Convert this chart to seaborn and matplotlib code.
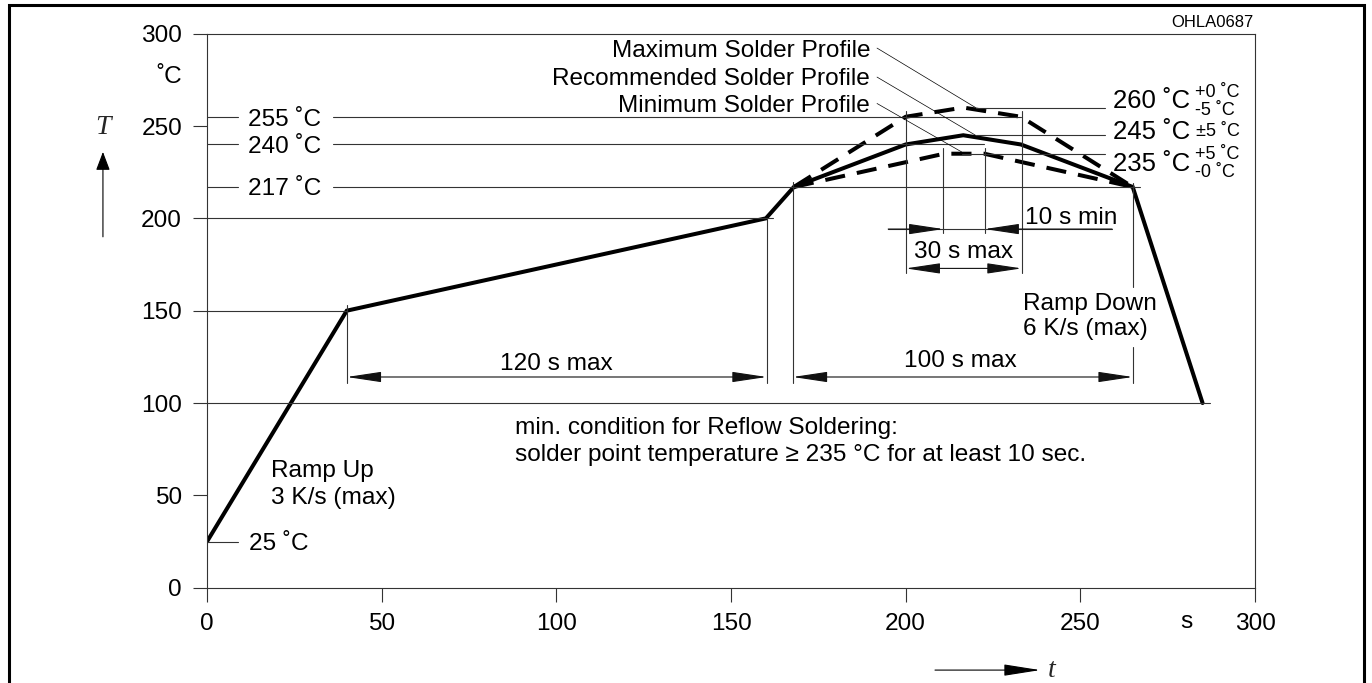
import numpy as np
import pandas as pd
import matplotlib.pyplot as plt
import matplotlib.patches as mpatches
import seaborn as sns

# Reflow profile: time (s) vs. temperature (°C)
ramp_t = [0, 40, 160, 168]
ramp_T = [25, 150, 200, 217]
rec_t = [168, 200, 216.5, 233, 265, 285]
rec_T = [217, 240, 245, 240, 217, 100]
max_t = [168, 200, 216.5, 233, 265]
max_T = [217, 255, 260, 255, 217]
min_t = [168, 211, 222.5, 265]
min_T = [217, 235, 235, 217]

x_ticks = [0, 50, 100, 150, 200, 250, 300]
y_ticks = [0, 50, 100, 150, 200, 250, 300]

sns.set_theme(style="white")
plt.rcParams["font.family"] = ["Liberation Sans", "DejaVu Sans"]

fig = plt.figure(figsize=(13.72, 6.83), dpi=100)
ax = fig.add_axes([0.1509, 0.1395, 0.7638, 0.8112])

thin = dict(color="#333333", lw=0.8)

# profile curves
solid = pd.DataFrame({"t": ramp_t + rec_t[1:], "T": ramp_T + rec_T[1:]})
sns.lineplot(data=solid, x="t", y="T", sort=False, estimator=None, color="black",
             lw=2.9, ax=ax, solid_joinstyle="miter")
for tt, TT in [(max_t, max_T), (min_t, min_T)]:
    df = pd.DataFrame({"t": tt, "T": TT})
    sns.lineplot(data=df, x="t", y="T", sort=False, estimator=None, color="black",
                 lw=2.9, ax=ax, linestyle=(0, (5, 3)))

# reference lines
for T, t0, t1 in [(255, 0, 9), (255, 36, 233), (240, 0, 9), (240, 36, 222.5),
                  (217, 0, 9), (217, 36, 267), (25, 0, 9), (200, 0, 162),
                  (150, 0, 40), (100, 0, 287), (260, 220, 257), (245, 220, 257),
                  (235, 216, 257)]:
    ax.plot([t0, t1], [T, T], **thin)
for t, T0, T1 in [(40, 153, 111), (160.2, 200, 111), (167.7, 219.8, 111),
                  (200, 258, 170.4), (233.2, 258, 170.4), (210.8, 238, 192),
                  (222.6, 238, 192), (265, 219, 163), (265, 130.5, 111)]:
    ax.plot([t, t], [T0, T1], **thin)
ax.plot([195, 259.1], [194.2, 194.2], **thin)

# dimension arrows
head = "head_length=1.8,head_width=0.27"
def arrow(x0, y0, x1, y1, style):
    ax.annotate("", xy=(x1, y1), xytext=(x0, y0), annotation_clip=False,
                arrowprops=dict(arrowstyle=style + "," + head, color="#111111",
                                lw=0.8, shrinkA=0, shrinkB=0))

arrow(40, 114.1, 160.2, 114.1, "<|-|>")
arrow(167.7, 114.1, 265, 114.1, "<|-|>")
arrow(200, 172.9, 233.2, 172.9, "<|-|>")
arrow(195, 194.2, 210.8, 194.2, "-|>")
arrow(259.1, 194.2, 222.6, 194.2, "-|>")

# leader lines
for y0, x1, y1 in [(292.2, 220, 260), (276.5, 220, 245), (262.2, 216, 236)]:
    ax.plot([191.8, x1], [y0, y1], color="black", lw=0.5)

fs = 17.6
def label(x, y, s, size=fs, ha="left", **kw):
    ax.text(x, y, s, fontsize=size, ha=ha, va="baseline", color="black",
            clip_on=False, **kw)

label(189.8, 287.5, "Maximum Solder Profile", ha="right")
label(189.8, 272.2, "Recommended Solder Profile", ha="right")
label(189.8, 257.7, "Minimum Solder Profile", ha="right")
label(11.7, 249.9, "255 ˚C")
label(11.7, 235.2, "240 ˚C")
label(11.7, 212.6, "217 ˚C")
label(12.0, 20.4, "25 ˚C")
label(18.3, 59.8, "Ramp Up")
label(18.3, 45.3, "3 K/s (max)")
label(88.2, 83.2, "min. condition for Reflow Soldering:")
label(88.2, 68.6, "solder point temperature ≥ 235 °C for at least 10 sec.")
label(100.1, 117.9, "120 s max", ha="center")
label(215.8, 119.7, "100 s max", ha="center")
label(216.5, 178.7, "30 s max", ha="center")
label(234.2, 196.9, "10 s min")
label(233.5, 150.3, "Ramp Down")
label(233.5, 136.8, "6 K/s (max)")
label(259.5, 259.5, "260 ˚C", size=18.5)
label(259.5, 242.8, "245 ˚C", size=18.5)
label(259.5, 225.8, "235 ˚C", size=18.5)
label(282.9, 265.5, "+0 ˚C", size=13)
label(282.9, 255.9, "-5 ˚C", size=13)
label(283.2, 244.6, "±5 ˚C", size=13)
label(282.9, 231.9, "+5 ˚C", size=13)
label(282.9, 222.2, "-0 ˚C", size=13)
label(299.6, 303.7, "OHLA0687", size=12, ha="right")
label(-7.2, 273.1, "˚C", ha="right")
label(280.5, -22, "s", ha="center")

# axis symbols with arrows
ax.text(-29.8, 249, "T", fontsize=20, family="Liberation Serif", style="italic",
        ha="center", va="center", clip_on=False)
ax.annotate("", xy=(-29.8, 236), xytext=(-29.8, 190), annotation_clip=False,
            arrowprops=dict(arrowstyle="-|>,head_length=0.95,head_width=0.36",
                            color="black", lw=0.8, shrinkA=0, shrinkB=0))
ax.text(241.8, -48.2, "t", fontsize=20, family="Liberation Serif", style="italic",
        ha="center", va="baseline", clip_on=False)
ax.annotate("", xy=(238.5, -44.6), xytext=(208.4, -44.6), annotation_clip=False,
            arrowprops=dict(arrowstyle="-|>,head_length=1.9,head_width=0.3",
                            color="black", lw=0.8, shrinkA=0, shrinkB=0))

# axes styling
ax.set_xlim(0, 300)
ax.set_ylim(0, 300)
ax.set_xticks(x_ticks)
ax.set_yticks(y_ticks)
ax.set_xlabel("")
ax.set_ylabel("")
ax.tick_params(direction="out", length=10, width=0.8, color="#333333", pad=8,
               labelsize=fs, labelcolor="black", bottom=True, left=True)
for sp in ax.spines.values():
    sp.set_color("#333333")
    sp.set_linewidth(0.8)

# outer frame
fig.add_artist(mpatches.Rectangle((9 / 1372, -0.05), (1364 - 9) / 1372,
                                  1.05 - 5 / 683, transform=fig.transFigure,
                                  fill=False, edgecolor="black", lw=2.2))

plt.savefig("out.png", dpi=100)
